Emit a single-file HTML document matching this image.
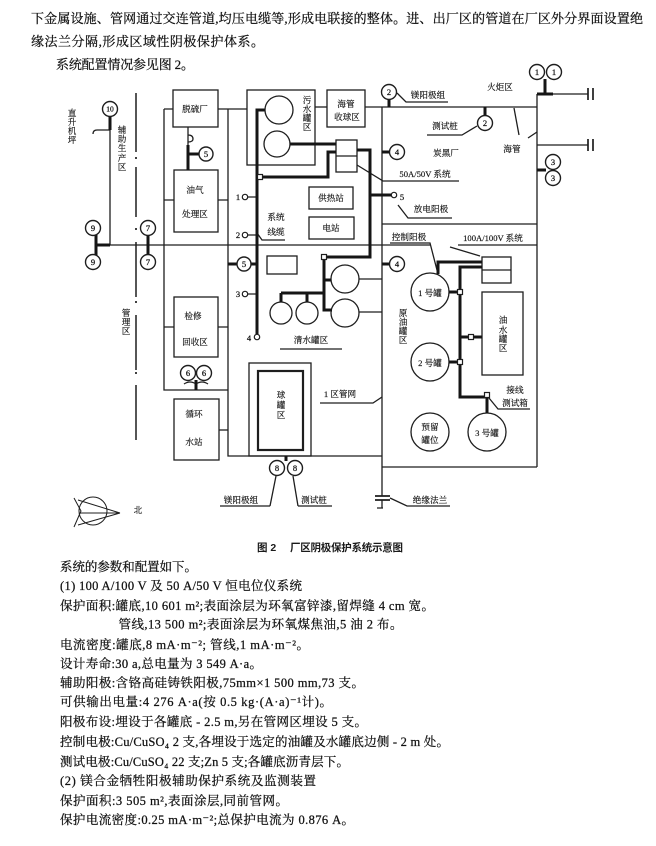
<!DOCTYPE html>
<html><head><meta charset="utf-8"><style>
html,body{margin:0;padding:0;background:#fff;}
svg{display:block;}
.t{font-family:"Liberation Serif","Noto Serif CJK SC",serif;fill:#111;stroke:#111;stroke-width:0.25px;}
.b{font-size:12.5px;}
.tp{font-size:13px;}
.s{font-size:8.6px;stroke-width:0.15px;}
.c{text-anchor:middle;}
.n{font-size:8.5px;text-anchor:middle;}
.cap{font-family:"Liberation Sans","Noto Sans CJK SC",sans-serif;font-weight:bold;font-size:10.5px;fill:#1a1a1a;}
</style></head><body>
<svg width="656" height="846" viewBox="0 0 656 846" xmlns="http://www.w3.org/2000/svg">
<rect width="656" height="846" fill="#fff"/>

<!-- top text -->
<g class="t tp" dominant-baseline="central">
<text x="31" y="18.5" textLength="612">下金属设施、管网通过交连管道,均压电缆等,形成电联接的整体。进、出厂区的管道在厂区外分界面设置绝</text>
<text x="31" y="41.5" textLength="233">缘法兰分隔,形成区域性阴极保护体系。</text>
<text x="56" y="64.5" textLength="138">系统配置情况参见图 2。</text>
</g>

<!-- thin lines -->
<g stroke="#1e1e1e" stroke-width="1.3" fill="none">
<path d="M110 130 V245"/>
<path d="M110 130 H97 q-4 0 -4 4"/>
<path d="M110 245 H430"/>
<!-- dash-dot separator -->
<path d="M136 93 V152 M136 167 V217 M136 242 V297 M136 315 V370 M136 385 V440" stroke-width="1.5"/>
<path d="M136 157 V159 M136 228 V230 M136 301 V303 M136 372 V374" stroke-width="1.7"/>
<rect x="173" y="90" width="45" height="37"/>
<path d="M164 109 H173 M218 109 H247"/>
<path d="M164 109 V390 H228"/>
<path d="M228 109 V456 H382"/>
<rect x="174" y="170" width="44" height="62"/>
<path d="M164 200 H174 M218 200 H228"/>
<path d="M188 127 V145"/>
<path d="M188 135 q5 0 5 4 q0 3 -5 3"/>
<rect x="174" y="297" width="44" height="60"/>
<path d="M164 327 H174 M218 327 H228"/>
<path d="M184 384 q6 -4 12 0 q6 -4 12 0"/>
<rect x="174" y="399" width="45" height="61"/>
<path d="M219 430 H228"/>
<rect x="249" y="363" width="62" height="93"/>
<rect x="258" y="371" width="45" height="79" stroke-width="2.2"/>
<path d="M270 506 L276 476 M220 506 H270 M298 506 H332 M298 506 L293 476"/>
<path d="M382 107 V496 M382 500 V508 M377 508 H383"/>
<path d="M375 496 H390 M375 500 H390" stroke-width="1.8"/>
<path d="M390 498 L407 506 H450"/>
<path d="M365 107 H537 M537 94 V467 M382 224 H537 M382 467 H537"/>
<path d="M537 94 H588 M537 145 H588"/>
<path d="M588 88 V100 M593 88 V100 M588 139 V151 M593 139 V151" stroke-width="1.7"/>
<path d="M477 126 L462 135 H427"/>
<path d="M514 108 L519 135 M528 138 L537 132"/>
<path d="M397 93 L406 102 H448"/>
<rect x="327" y="90" width="38" height="37"/>
<path d="M315 107 H327"/>
<rect x="247" y="90" width="68" height="75"/>
<circle cx="279" cy="110" r="14"/>
<circle cx="277" cy="144" r="13"/>
<path d="M248 197 H257 M248 235 H257 M248 294 H257"/>
<rect x="336" y="140" width="21" height="32"/>
<path d="M336 156 H357"/>
<path d="M357 165 L383 181 H459"/>
<path d="M398 205 L408 218 H452"/>
<rect x="309" y="187" width="44" height="22"/>
<rect x="309" y="217" width="45" height="22"/>
<path d="M257 233 L262 240 H285"/>
<rect x="267" y="256" width="30" height="18"/>
<circle cx="345" cy="279" r="14"/>
<circle cx="345" cy="313" r="14"/>
<circle cx="281" cy="313" r="11"/>
<circle cx="307" cy="313" r="11"/>
<path d="M359 279 H382 M359 312 H382"/>
<path d="M280 349 H342"/>
<path d="M320 403 H373 L382 397"/>
<path d="M390 243 H430 L438 274"/>
<path d="M458 245 H537 M450 247 L480 256"/>
<rect x="482" y="257" width="29" height="26"/>
<path d="M482 270 H511"/>
<circle cx="430" cy="292" r="19"/>
<circle cx="430" cy="362" r="19"/>
<circle cx="487" cy="432" r="19"/>
<circle cx="430" cy="432" r="19"/>
<rect x="482" y="292" width="41" height="83"/>
<path d="M489 398 L498 409 H530"/>
<!-- compass -->
<circle cx="93" cy="511" r="14" stroke-width="1"/>
<path d="M78 500 L120 513 M80 513 L120 513 M78 525 L120 513 M74 498 L81 511 L74 527" stroke-width="1"/>
</g>

<!-- thick lines -->
<g stroke="#151515" stroke-width="3" fill="none">
<path d="M110 117 V130"/>
<path d="M96 235 V255 M96 245 H110"/>
<path d="M148 235 V255"/>
<path d="M188 145 V170 M188 154 H199"/>
<path d="M196 380 V390"/>
<path d="M286 456 V461"/>
<path d="M389 100 V107"/>
<path d="M545 79 V94 M537 94 H553"/>
<path d="M537 170 H546"/>
<path d="M485 107 V116"/>
<path d="M265 110 H257 V334"/>
<path d="M228 264 H237 M251 264 H257"/>
<path d="M290 144 H336"/>
<path d="M260 177 H328 V152 H336"/>
<path d="M357 150 H370 V257 H324 V310 H332 M324 280 H331 M281 293 H324 M281 293 V302 M307 293 V302"/>
<path d="M370 195 H392"/>
<path d="M382 152 H390 M382 264 H390"/>
<path d="M482 262 H438 V274"/>
<path d="M482 267 H460 V397 H487 V413"/>
<path d="M449 292 H460 M449 362 H460 M460 337 H482"/>
</g>

<!-- small node squares and small terminal circles -->
<g stroke="#1e1e1e" stroke-width="1.2" fill="#fff">
<rect x="257.5" y="174.5" width="5" height="5"/>
<rect x="321.5" y="254.5" width="5" height="5"/>
<rect x="457.5" y="289.5" width="5" height="5"/>
<rect x="457.5" y="359.5" width="5" height="5"/>
<rect x="468.5" y="334.5" width="5" height="5"/>
<rect x="484.5" y="392.5" width="5" height="5"/>
<circle cx="245" cy="197" r="2.7"/>
<circle cx="245" cy="235" r="2.7"/>
<circle cx="245" cy="294" r="2.7"/>
<circle cx="257" cy="337" r="2.7"/>
<circle cx="394" cy="195" r="2.7"/>
</g>

<!-- numbered circles -->
<g stroke="#1e1e1e" stroke-width="1.4" fill="#fff">
<circle cx="110" cy="109" r="7.5"/>
<circle cx="93" cy="228" r="7.5"/><circle cx="93" cy="262" r="7.5"/>
<circle cx="148" cy="228" r="7.5"/><circle cx="148" cy="262" r="7.5"/>
<circle cx="206" cy="154" r="7"/>
<circle cx="244" cy="264" r="7"/>
<circle cx="188" cy="373" r="7.5"/><circle cx="204" cy="373" r="7.5"/>
<circle cx="277" cy="468" r="7.5"/><circle cx="295" cy="468" r="7.5"/>
<circle cx="389" cy="92" r="7.5"/>
<circle cx="397" cy="152" r="7.5"/><circle cx="397" cy="264" r="7.5"/>
<circle cx="537" cy="72" r="7.5"/><circle cx="554" cy="72" r="7.5"/>
<circle cx="485" cy="123" r="7.5"/>
<circle cx="553" cy="162" r="7.5"/><circle cx="553" cy="178" r="7.5"/>
</g>
<g class="t n" dominant-baseline="central">
<text x="110" y="109" font-size="7.5">10</text>
<text x="93" y="228">9</text><text x="93" y="262">9</text>
<text x="148" y="228">7</text><text x="148" y="262">7</text>
<text x="206" y="154">5</text>
<text x="244" y="264">5</text>
<text x="188" y="373">6</text><text x="204" y="373">6</text>
<text x="277" y="468">8</text><text x="295" y="468">8</text>
<text x="389" y="92">2</text>
<text x="397" y="152">4</text><text x="397" y="264">4</text>
<text x="537" y="72">1</text><text x="554" y="72">1</text>
<text x="485" y="123">2</text>
<text x="553" y="162">3</text><text x="553" y="178">3</text>
<text x="238" y="197">1</text>
<text x="238" y="235">2</text>
<text x="238" y="294">3</text>
<text x="249" y="338">4</text>
<text x="402" y="197">5</text>
</g>

<!-- diagram labels -->
<g class="t s" dominant-baseline="central">
<g class="c">
<text x="72" y="113">直</text><text x="72" y="122">升</text><text x="72" y="131">机</text><text x="72" y="140">坪</text>
<text x="122" y="130">辅</text><text x="122" y="139">助</text><text x="122" y="148">生</text><text x="122" y="158">产</text><text x="122" y="167">区</text>
<text x="126" y="313">管</text><text x="126" y="322">理</text><text x="126" y="331">区</text>
<text x="307" y="100">污</text><text x="307" y="109">水</text><text x="307" y="118">罐</text><text x="307" y="127">区</text>
<text x="281" y="395">球</text><text x="281" y="405">罐</text><text x="281" y="415">区</text>
<text x="403" y="313">原</text><text x="403" y="322">油</text><text x="403" y="331">罐</text><text x="403" y="340">区</text>
<text x="503" y="320">油</text><text x="503" y="330">水</text><text x="503" y="339">罐</text><text x="503" y="348">区</text>
<text x="195" y="109">脱硫厂</text>
<text x="195" y="190">油气</text>
<text x="195" y="214">处理区</text>
<text x="193" y="316">检修</text>
<text x="195" y="342">回收区</text>
<text x="194" y="414">循环</text>
<text x="194" y="442">水站</text>
<text x="346" y="104">海管</text>
<text x="347" y="117">收球区</text>
<text x="331" y="198">供热站</text>
<text x="331" y="228">电站</text>
<text x="276" y="217">系统</text>
<text x="276" y="232">线缆</text>
<text x="311" y="340">清水罐区</text>
<text x="340" y="394">1 区管网</text>
<text x="430" y="293">1 号罐</text>
<text x="430" y="363">2 号罐</text>
<text x="487" y="433">3 号罐</text>
<text x="430" y="427">预留</text>
<text x="430" y="440">罐位</text>
<text x="515" y="390">接线</text>
<text x="515" y="403">测试箱</text>
<text x="500" y="87">火炬区</text>
<text x="445" y="126">测试桩</text>
<text x="446" y="153">炭黑厂</text>
<text x="512" y="149">海管</text>
<text x="428" y="95">镁阳极组</text>
<text x="425" y="174">50A/50V 系统</text>
<text x="431" y="209">放电阳极</text>
<text x="409" y="237">控制阳极</text>
<text x="493" y="238">100A/100V 系统</text>
<text x="241" y="500">镁阳极组</text>
<text x="314" y="500">测试桩</text>
<text x="430" y="500">绝缘法兰</text>
<text x="138" y="510">北</text>
</g>
</g>

<!-- caption -->
<text class="cap" x="257" y="551">图 2</text>
<text class="cap" x="290" y="551" textLength="113">厂区阴极保护系统示意图</text>

<!-- bottom text -->
<g class="t b" dominant-baseline="central">
<text x="60" y="567" textLength="137">系统的参数和配置如下。</text>
<text x="60" y="586" textLength="242">(1) 100 A/100 V 及 50 A/50 V 恒电位仪系统</text>
<text x="60" y="606" textLength="374">保护面积:罐底,10 601 m²;表面涂层为环氧富锌漆,留焊缝 4 cm 宽。</text>
<text x="118.5" y="624.5" textLength="284">管线,13 500 m²;表面涂层为环氧煤焦油,5 油 2 布。</text>
<text x="60" y="645" textLength="249">电流密度:罐底,8 mA·m⁻²; 管线,1 mA·m⁻²。</text>
<text x="60" y="664" textLength="202">设计寿命:30 a,总电量为 3 549 A·a。</text>
<text x="60" y="683" textLength="304">辅助阳极:含铬高硅铸铁阳极,75mm×1 500 mm,73 支。</text>
<text x="60" y="702" textLength="272">可供输出电量:4 276 A·a(按 0.5 kg·(A·a)⁻¹计)。</text>
<text x="60" y="722" textLength="307">阳极布设:埋设于各罐底 - 2.5 m,另在管网区埋设 5 支。</text>
<text x="60" y="742" textLength="389">控制电极:Cu/CuSO₄ 2 支,各埋设于选定的油罐及水罐底边侧 - 2 m 处。</text>
<text x="60" y="762" textLength="289">测试电极:Cu/CuSO₄ 22 支;Zn 5 支;各罐底沥青层下。</text>
<text x="60" y="781" textLength="256">(2) 镁合金牺牲阳极辅助保护系统及监测装置</text>
<text x="60" y="801" textLength="228">保护面积:3 505 m²,表面涂层,同前管网。</text>
<text x="60" y="820" textLength="294">保护电流密度:0.25 mA·m⁻²;总保护电流为 0.876 A。</text>
</g>
</svg>
</body></html>
